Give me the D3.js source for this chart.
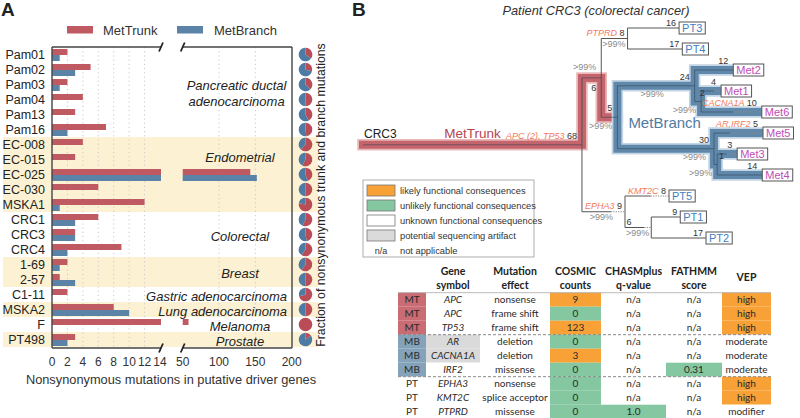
<!DOCTYPE html>
<html><head><meta charset="utf-8">
<script src="https://cdn.jsdelivr.net/npm/d3@7"></script>
<style>
body{margin:0;background:#fff;}
svg{display:block;font-family:"Liberation Sans",Arial,sans-serif;}
</style></head><body>
<svg id="chart" width="800" height="418"></svg>
<script>
// ================= DATA =================
// Panel A
const samples = ["Pam01","Pam02","Pam03","Pam04","Pam13","Pam16","EC-008","EC-015","EC-025","EC-030","MSKA1","CRC1","CRC3","CRC4","1-69","2-57","C1-11","MSKA2","F","PT498"];
const trunkValues  = [2,5,2,4,3,7,4,3,143,6,12,6,3,9,2,1,2,8,58,3];
const branchValues = [1,3,1,0,0,2,0,0,152,0,1,3,3,2,1,3,0,10,0,2];
const trunkFraction = [0.35,0.30,0.37,0.50,0.42,0.48,0.62,0.58,0.45,0.50,0.78,0.57,0.47,0.60,0.60,0.50,0.70,0.50,1.0,0.15];
const cancerTypes = [["Pancreatic ductal","adenocarcinoma"],["Endometrial"],["Colorectal"],["Breast"],["Gastric adenocarcinoma"],["Lung adenocarcinoma"],["Melanoma"],["Prostate"]];
const cancerFirst = [0,6,11,14,16,17,18,19];
const cancerLast  = [5,10,13,15,16,17,18,19];
const cancerShaded = [false,true,false,true,false,true,false,true];
const leftTicks = [0,2,4,6,8,10,12,14];
const rightTicks = [50,100,150,200];
const seriesNames = ["MetTrunk","MetBranch"];

// Panel B tree
const treeNodes = [
  {id:"CRC3", parent:"",    length:0,  genes:"",              support:""},
  {id:"T",    parent:"CRC3",length:68, genes:"APC (2), TP53", support:""},
  {id:"A",    parent:"T",   length:6,  genes:"",              support:">99%"},
  {id:"P",    parent:"A",   length:8,  genes:"PTPRD",         support:">99%"},
  {id:"PT3",  parent:"P",   length:16, genes:"",              support:""},
  {id:"PT4",  parent:"P",   length:17, genes:"",              support:""},
  {id:"MB",   parent:"A",   length:5,  genes:"",              support:">99%"},
  {id:"N24",  parent:"MB",  length:24, genes:"",              support:">99%"},
  {id:"Met2", parent:"N24", length:12, genes:"",              support:""},
  {id:"N2",   parent:"N24", length:2,  genes:"",              support:">99%"},
  {id:"Met1", parent:"N2",  length:4,  genes:"",              support:""},
  {id:"Met6", parent:"N2",  length:10, genes:"CACNA1A",       support:""},
  {id:"N30",  parent:"MB",  length:30, genes:"",              support:">99%"},
  {id:"Met5", parent:"N30", length:5,  genes:"AR,IRF2",       support:""},
  {id:"N1",   parent:"N30", length:1,  genes:"",              support:">99%"},
  {id:"Met3", parent:"N1",  length:3,  genes:"",              support:""},
  {id:"Met4", parent:"N1",  length:14, genes:"",              support:""},
  {id:"E",    parent:"T",   length:9,  genes:"EPHA3",         support:">99%"},
  {id:"PT5",  parent:"E",   length:8,  genes:"KMT2C",         support:""},
  {id:"N6",   parent:"E",   length:6,  genes:"",              support:">99%"},
  {id:"PT1",  parent:"N6",  length:9,  genes:"",              support:""},
  {id:"PT2",  parent:"N6",  length:17, genes:"",              support:""}
];
const trunkPath = ["T","A","MB"];
const branchRoot = "MB";

// Legend B
const consequenceLabels = ["likely functional consequences","unlikely functional consequences","unknown functional consequences","potential sequencing artifact","not applicable"];
const consequenceKeys = ["likely","unlikely","unknown","artifact","na"];

// Table
const tableHeaders = [["",""],["Gene","symbol"],["Mutation","effect"],["COSMIC","counts"],["CHASMplus","q-value"],["FATHMM","score"],["VEP"]];
const rowGroups = ["MT","MT","MT","MB","MB","MB","PT","PT","PT"];
const geneSymbols = ["APC","APC","TP53","AR","CACNA1A","IRF2","EPHA3","KMT2C","PTPRD"];
const mutationEffects = ["nonsense","frame shift","frame shift","deletion","deletion","missense","nonsense","splice acceptor","missense"];
const cosmicCounts = ["9","0","123","0","3","0","0","0","0"];
const chasmQ = ["n/a","n/a","n/a","n/a","n/a","n/a","n/a","n/a","1.0"];
const fathmmScores = ["n/a","n/a","n/a","n/a","n/a","0.31","n/a","n/a","n/a"];
const vepImpact = ["high","high","high","moderate","moderate","moderate","high","high","modifier"];
const geneArtifact = [false,false,false,true,true,false,false,false,false];

// ================= DRAW =================
const svg = d3.select("#chart");
const RED = "#c05a62", BLUE = "#5b83a7";
const SHADE = "#fcf2d3";
const catColor = {likely:"#f8a136", unlikely:"#85c7a0", unknown:"#ffffff", artifact:"#dadada", na:"none"};

// ---------- Panel A ----------
const PA = svg.append("g");
const xL = d3.scaleLinear().domain([0,14]).range([52,160]);
const xR = d3.scaleLinear().domain([50,200]).range([182.7,291.7]);
const yA = d3.scaleBand().domain(samples).range([47,347]);
const bw = yA.bandwidth();
const plotTop = 47, plotBottom = 348, plotRight = 292;

cancerTypes.forEach((c,i)=>{
  if(!cancerShaded[i]) return;
  PA.append("rect").attr("x",3).attr("width",315)
    .attr("y",yA(samples[cancerFirst[i]]))
    .attr("height",(cancerLast[i]-cancerFirst[i]+1)*bw)
    .attr("fill",SHADE);
});
PA.selectAll(".gl").data(leftTicks.filter(t=>t>0&&t<14)).join("line")
  .attr("x1",d=>xL(d)).attr("x2",d=>xL(d)).attr("y1",plotTop).attr("y2",plotBottom)
  .attr("stroke","#c9c9c9").attr("stroke-dasharray","1.2,3");
PA.selectAll(".gr").data(rightTicks.filter(t=>t>50&&t<200)).join("line")
  .attr("x1",d=>xR(d)).attr("x2",d=>xR(d)).attr("y1",plotTop).attr("y2",plotBottom)
  .attr("stroke","#c9c9c9").attr("stroke-dasharray","1.2,3");

function segs(v){
  if(v<=14) return [[xL(0),xL(v)]];
  return [[xL(0),xL(14)+1],[xR(50),xR(v)]];
}
[[trunkValues,RED,2],[branchValues,BLUE,8]].forEach(([vals,col,off])=>{
  samples.forEach((s,i)=>{
    if(vals[i]<=0) return;
    segs(vals[i]).forEach(([a,b])=>{
      PA.append("rect").attr("x",a).attr("width",b-a).attr("y",yA(s)+off).attr("height",6).attr("fill",col);
    });
  });
});
PA.selectAll(".rl").data(samples).join("text")
  .attr("x",45).attr("y",d=>yA(d)+bw/2+4.5).attr("text-anchor","end")
  .attr("font-size",12.5).attr("fill","#222").text(d=>d);
const fr = PA.append("g").attr("stroke","#444").attr("stroke-width",1.4).attr("fill","none");
fr.append("line").attr("x1",52).attr("x2",52).attr("y1",plotTop).attr("y2",plotBottom);
fr.append("line").attr("x1",plotRight).attr("x2",plotRight).attr("y1",plotTop).attr("y2",plotBottom);
[plotTop,plotBottom].forEach(y=>{
  fr.append("line").attr("x1",52).attr("x2",xL(14)+1).attr("y1",y).attr("y2",y);
  fr.append("line").attr("x1",xR(50)).attr("x2",plotRight).attr("y1",y).attr("y2",y);
  [xL(14)+1,xR(50)].forEach(x=>{
    fr.append("line").attr("x1",x-2).attr("x2",x+2).attr("y1",y+4.5).attr("y2",y-4.5).attr("stroke-width",1.8).attr("stroke","#222");
  });
});
PA.selectAll(".tl").data(leftTicks).join("text").attr("x",d=>xL(d)).attr("y",366)
  .attr("text-anchor","middle").attr("font-size",12).attr("fill","#333").text(d=>d);
PA.selectAll(".tr").data(rightTicks).join("text").attr("x",d=>xR(d)).attr("y",366)
  .attr("text-anchor","middle").attr("font-size",12).attr("fill","#333").text(d=>d);
PA.append("text").attr("x",171).attr("y",383.5).attr("text-anchor","middle").attr("font-size",12.8).attr("fill","#333")
  .text("Nonsynonymous mutations in putative driver genes");
cancerTypes.forEach((lines,i)=>{
  let rowMid = (cancerFirst[i]+cancerLast[i])/2;
  if(lines[0]==="Endometrial") rowMid = cancerFirst[i]+0.75;
  const yc = yA(samples[0]) + (rowMid+0.5)*bw + 1.5;
  const t = PA.append("text").attr("font-size",13).attr("font-style","italic").attr("fill","#222").attr("text-anchor","middle");
  lines.forEach((ln,j)=>{
    t.append("tspan").attr("x",0).attr("y",yc + (j-(lines.length-1)/2)*16 + 4.5).text(ln);
  });
  const w = t.node().getBBox().width;
  const cx = Math.min(240, 287 - w/2);
  t.selectAll("tspan").attr("x",cx);
});
const pie = d3.pie().sort(null).value(d=>d);
const arc = d3.arc().innerRadius(0).outerRadius(6.8);
samples.forEach((s,i)=>{
  const g = PA.append("g").attr("transform",`translate(305.5,${yA(s)+bw/2})`);
  g.selectAll("path").data(pie([trunkFraction[i],1-trunkFraction[i]])).join("path")
    .attr("d",arc).attr("fill",(d,j)=>j===0?"#b94c57":"#4e7ba3");
});
PA.append("text").attr("transform","translate(325,195) rotate(-90)").attr("text-anchor","middle")
  .attr("font-size",12.3).attr("fill","#222").text("Fraction of nonsynonymous trunk and branch mutations");
[[67,RED,103],[177,BLUE,214]].forEach(([x,c,tx],i)=>{
  PA.append("rect").attr("x",x).attr("y",26).attr("width",26).attr("height",7.5).attr("fill",c);
  PA.append("text").attr("x",tx).attr("y",34.5).attr("font-size",13).attr("fill","#333").text(seriesNames[i]);
});
svg.append("text").attr("x",1).attr("y",16).attr("font-size",19).attr("font-weight","bold").attr("fill","#222").text("A");
svg.append("text").attr("x",352).attr("y",16).attr("font-size",19).attr("font-weight","bold").attr("fill","#222").text("B");

// ---------- Panel B tree ----------
const PB = svg.append("g");
PB.append("text").attr("x",596).attr("y",15).attr("text-anchor","middle").attr("font-size",12.8)
  .attr("font-style","italic").attr("fill","#333").text("Patient CRC3 (colorectal cancer)");

const root = d3.stratify().id(d=>d.id).parentId(d=>d.parent||null)(treeNodes);
d3.cluster().nodeSize([21,1]).separation(()=>1)(root);
const yShift = 28 - d3.min(root.leaves(), d=>d.x);
root.each(d=>{ d.ty = d.x + yShift; });
const xT = d3.scaleLinear().domain([0,100]).range([363,685]);
const mbNode = root.find(d=>d.id===branchRoot);
const blueSet = new Set(mbNode.descendants().filter(d=>d!==mbNode));
const redSet = new Set(root.descendants().filter(d=>trunkPath.includes(d.id)));
const isHL = n => blueSet.has(n) || redSet.has(n);

const meas = svg.append("g").attr("opacity",0);
function labelText(sel, n){
  if(n.data.genes) sel.append("tspan").attr("font-style","italic").attr("fill","#f07a5a").text(n.data.genes+" ");
  sel.append("tspan").attr("fill","#333").text(n.data.length);
}
root.each(n=>{
  if(!n.parent) return;
  const t = meas.append("text").attr("font-size",9); labelText(t,n);
  n.labelW = t.node().getBBox().width;
  const s = meas.append("text").attr("font-size",9).text(n.data.support);
  n.supportW = n.data.support ? s.node().getBBox().width : 0;
});
root.eachBefore(n=>{
  if(!n.parent){ n.vx = xT(0); n.sx = n.vx; return; }
  const solid = xT(n.data.length)-xT(0);
  let vlen = solid;
  const leaf = !n.children, first = n.parent.children[0]===n;
  if(n.data.genes && (leaf || !first)) vlen = Math.max(vlen, n.labelW+6);
  if(leaf) vlen = Math.max(vlen, 20);
  if(n.data.support && !isHL(n)) vlen = Math.max(vlen, n.supportW+3);
  n.sx = n.parent.vx + solid;
  n.vx = n.parent.vx + vlen;
});
const nd = id => root.find(d=>d.id===id);
const Tn = nd("T"), An = nd("A"), MB = mbNode;
const redD = `M${root.vx},${Tn.ty}H${Tn.vx}V${An.ty}H${An.vx}V${MB.ty}H${MB.vx}`;
let blueD = "";
mbNode.descendants().forEach(n=>{
  if(n!==mbNode) blueD += `M${n.parent.vx},${n.ty}H${n.vx}`;
  if(n.children) blueD += `M${n.vx},${n.children[0].ty}V${n.children[n.children.length-1].ty}`;
});
[[redD,"#e9b9ba","#c4646c"],[blueD,"#c3d5e5","#5f88ab"]].forEach(([d,halo,main])=>{
  PB.append("path").attr("d",d).attr("fill","none").attr("stroke",halo).attr("stroke-width",11.5).attr("stroke-linecap","square").attr("stroke-linejoin","miter");
  PB.append("path").attr("d",d).attr("fill","none").attr("stroke",main).attr("stroke-width",8).attr("stroke-linecap","square").attr("stroke-linejoin","miter");
});
root.each(n=>{
  if(n.parent){
    PB.append("line").attr("x1",n.parent.vx).attr("x2",n.sx).attr("y1",n.ty).attr("y2",n.ty)
      .attr("stroke",isHL(n)?"#2f3f4f":"#555").attr("stroke-opacity",isHL(n)?0.55:1).attr("stroke-width",1);
    if(n.vx>n.sx+0.5) PB.append("line").attr("x1",n.sx).attr("x2",n.vx).attr("y1",n.ty).attr("y2",n.ty)
      .attr("stroke","#888").attr("stroke-width",1).attr("stroke-dasharray","1.2,1.2");
  }
  if(n.children){
    const hl = blueSet.has(n)||n===mbNode;
    PB.append("line").attr("x1",n.vx).attr("x2",n.vx).attr("y1",n.children[0].ty).attr("y2",n.children[n.children.length-1].ty)
      .attr("stroke",hl?"#2f3f4f":"#555").attr("stroke-opacity",hl?0.55:1).attr("stroke-width",1);
  }
});
const supportShift = {N24:-26, E:-10, N30:-3};
root.each(n=>{
  if(!n.parent) return;
  const hl = isHL(n);
  const flip = n.id==="A";
  const solid = n.sx - n.parent.vx;
  const t = PB.append("text").attr("font-size",9);
  if(solid < 8 && !n.data.genes){
    // very short branch: label placed just right of the branch origin
    t.attr("text-anchor","start").attr("x", n.parent.vx+5).attr("y", n.ty-(hl?6:2.5));
  } else if(n.children && n.vx > n.sx+3 && !n.data.genes){
    t.attr("text-anchor","start").attr("x", n.parent.vx+1.5).attr("y", n.ty-2.5);
  } else {
    t.attr("text-anchor","end").attr("x", n.vx-(hl?5:3)).attr("y", flip ? n.ty+13 : n.ty-(hl?6:2.5));
  }
  labelText(t,n);
  if(n.data.support){
    PB.append("text").attr("font-size",9).attr("text-anchor","end").attr("fill","#8a8a8a")
      .attr("x", n.vx-(hl?5:2)+(supportShift[n.id]||0))
      .attr("y", flip ? n.ty-8 : n.ty+(hl?11.5:8.5)).text(n.data.support);
  }
});
root.leaves().forEach(n=>{
  const isPT = n.id.startsWith("PT");
  const g = PB.append("g");
  const r = g.append("rect");
  const t = g.append("text").attr("font-size",11).attr("fill",isPT?"#3f80c2":"#c24cb6")
    .attr("x",n.vx+3).attr("y",n.ty+4).text(n.id);
  const w = t.node().getBBox().width;
  r.attr("x",n.vx).attr("y",n.ty-6).attr("width",w+6).attr("height",12)
    .attr("fill","#fff").attr("stroke","#555").attr("stroke-width",1);
});
PB.append("text").attr("x",root.vx+1).attr("y",Tn.ty-6.5).attr("font-size",12).attr("fill","#222").text("CRC3");
PB.append("text").attr("x",(root.vx+Tn.vx)/2).attr("y",Tn.ty-6.5).attr("text-anchor","middle").attr("font-size",13.5).attr("fill","#b5464f").text(seriesNames[0]);
PB.append("text").attr("x",MB.vx+11).attr("y",MB.ty+11).attr("font-size",15).attr("fill","#4f7ba3").text(seriesNames[1]);

// ---------- legend B ----------
const L = svg.append("g");
L.append("rect").attr("x",363).attr("y",180).attr("width",171).attr("height",77).attr("fill","#fff").attr("stroke","#999").attr("stroke-width",0.8);
consequenceKeys.forEach((k,i)=>{
  const y = 185 + i*15;
  if(k==="na"){
    L.append("text").attr("x",381).attr("y",y+8.5).attr("text-anchor","middle").attr("font-size",9).attr("fill","#333").text("n/a");
  } else {
    L.append("rect").attr("x",367).attr("y",y).attr("width",28).attr("height",11).attr("fill",catColor[k]).attr("stroke","#777").attr("stroke-width",0.8);
  }
  L.append("text").attr("x",400).attr("y",y+8.5).attr("font-size",9.3).attr("fill","#333").text(consequenceLabels[i]);
});

// ---------- table ----------
const TB = svg.append("g").style("font-family","Lato, 'Open Sans', sans-serif");
const colEdges = [398,426,480,550,601,666,722,771];
const rowY = d3.scaleBand().domain(d3.range(rowGroups.length)).range([292.7,292.7+14*rowGroups.length]);
const rh = rowY.bandwidth();
const groupFill = {MT:"#c96c73", MB:"#84a2ba", PT:"#ffffff"};
const cosCls = v => +v>0 ? "likely":"unlikely";
const valCls = v => v==="n/a" ? "unknown":"unlikely";
const vepCls = v => v==="high" ? "likely":"unknown";
rowGroups.forEach((g,i)=>{
  const cells = [
    {v:g, fill:groupFill[g]},
    {v:geneSymbols[i], fill:geneArtifact[i]?catColor.artifact:"#fff", it:true},
    {v:mutationEffects[i], fill:"#fff"},
    {v:cosmicCounts[i], fill:catColor[cosCls(cosmicCounts[i])]},
    {v:chasmQ[i], fill:catColor[valCls(chasmQ[i])]},
    {v:fathmmScores[i], fill:catColor[valCls(fathmmScores[i])]},
    {v:vepImpact[i], fill:catColor[vepCls(vepImpact[i])]}
  ];
  cells.forEach((c,j)=>{
    TB.append("rect").attr("x",colEdges[j]).attr("y",rowY(i)).attr("width",colEdges[j+1]-colEdges[j]).attr("height",rh).attr("fill",c.fill);
    TB.append("text").attr("x",(colEdges[j]+colEdges[j+1])/2).attr("y",rowY(i)+rh/2+3.6).attr("text-anchor","middle")
      .attr("font-size",10).attr("fill","#2a2a2a").attr("font-style",c.it?"italic":"normal").text(c.v);
  });
});
TB.append("line").attr("x1",colEdges[0]).attr("x2",colEdges[7]).attr("y1",rowY(0)).attr("y2",rowY(0)).attr("stroke","#aaa").attr("stroke-width",0.8);
[3,6].forEach(r=>{
  TB.append("line").attr("x1",colEdges[0]).attr("x2",colEdges[7]).attr("y1",rowY(r)).attr("y2",rowY(r))
    .attr("stroke","#888").attr("stroke-width",1).attr("stroke-dasharray","3,2");
});
tableHeaders.forEach((h,j)=>{
  const cx = (colEdges[j]+colEdges[j+1])/2;
  if(h.length===1){
    TB.append("text").attr("x",cx).attr("y",281).attr("text-anchor","middle").attr("font-size",10.5).attr("font-weight","bold").attr("fill","#222").text(h[0]);
  } else {
    h.forEach((ln,k)=>TB.append("text").attr("x",cx).attr("y",274.5+k*14).attr("text-anchor","middle").attr("font-size",10.5).attr("font-weight","bold").attr("fill","#222").text(ln));
  }
});
</script>
</body></html>
